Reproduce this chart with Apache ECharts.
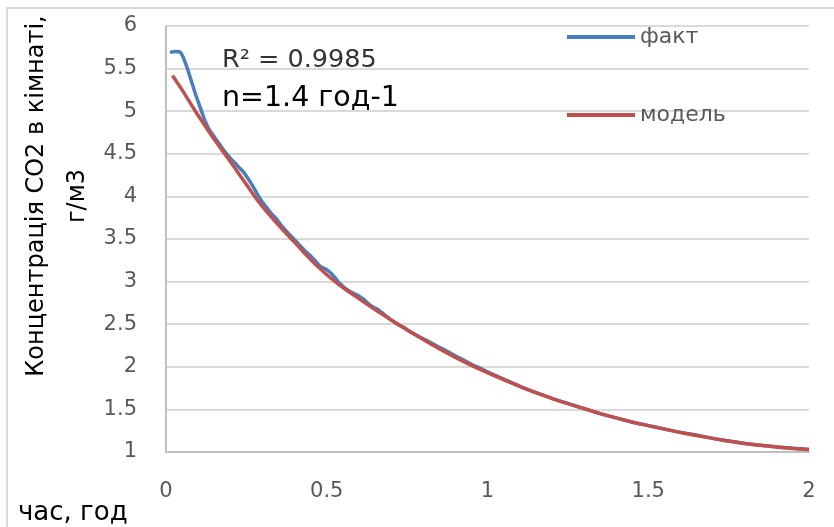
<!DOCTYPE html>
<html>
<head>
<meta charset="utf-8">
<script src="https://cdn.jsdelivr.net/npm/echarts@6/dist/echarts.min.js"></script>
<style>
  html, body { margin: 0; padding: 0; background: #fff; }
  #chart { width: 834px; height: 527px; }
</style>
</head>
<body>
<div id="chart"></div>
<script>
// Measured CO2 concentration (г/м3) against time (год)
const factTime = [0.012, 0.03, 0.045, 0.06, 0.075, 0.09, 0.105, 0.12, 0.135, 0.15, 0.165, 0.18, 0.195, 0.21, 0.225, 0.24, 0.255, 0.27, 0.285, 0.30, 0.315, 0.33, 0.345, 0.36, 0.375, 0.39, 0.405, 0.42, 0.435, 0.45, 0.465, 0.48, 0.495, 0.51, 0.525, 0.54, 0.555, 0.57, 0.585, 0.60, 0.615, 0.63, 0.645, 0.66, 0.68, 0.70, 0.72, 0.74, 0.76, 0.78, 0.80, 0.82, 0.84, 0.86, 0.88, 0.90, 0.92, 0.94, 0.96, 0.98, 1.00, 1.03, 1.06, 1.09, 1.12, 1.15, 1.20, 1.25, 1.30, 1.35, 1.40, 1.45, 1.50, 1.55, 1.60, 1.65, 1.70, 1.75, 1.80, 1.85, 1.90, 1.95, 2.00];
const factConc = [5.69, 5.70, 5.69, 5.57, 5.40, 5.22, 5.06, 4.90, 4.78, 4.70, 4.62, 4.54, 4.47, 4.41, 4.35, 4.29, 4.21, 4.12, 4.02, 3.93, 3.86, 3.79, 3.73, 3.65, 3.59, 3.53, 3.47, 3.41, 3.35, 3.30, 3.24, 3.18, 3.15, 3.11, 3.05, 2.98, 2.93, 2.89, 2.86, 2.83, 2.79, 2.74, 2.70, 2.67, 2.61, 2.55, 2.50, 2.46, 2.41, 2.37, 2.33, 2.29, 2.25, 2.21, 2.17, 2.13, 2.09, 2.05, 2.01, 1.98, 1.94, 1.89, 1.84, 1.79, 1.74, 1.70, 1.63, 1.57, 1.51, 1.45, 1.40, 1.35, 1.31, 1.27, 1.23, 1.20, 1.16, 1.13, 1.10, 1.08, 1.06, 1.045, 1.03];

// Model curve (n = 1.4 год-1)
const modelTime = [0.02, 0.05, 0.1, 0.15, 0.2, 0.25, 0.3, 0.4, 0.5, 0.6, 0.7, 0.8, 0.9, 1.0, 1.1, 1.2, 1.3, 1.4, 1.5, 1.6, 1.7, 1.8, 1.9, 2.0];
const modelConc = [5.42, 5.25, 4.95, 4.67, 4.41, 4.14, 3.88, 3.46, 3.08, 2.80, 2.55, 2.32, 2.11, 1.93, 1.77, 1.63, 1.51, 1.40, 1.31, 1.23, 1.16, 1.10, 1.06, 1.03];

const seriesNames = ['факт', 'модель'];
const yTitle = 'Концентрація СО2 в кімнаті,\nг/м3';
const xTitle = 'час, год';
const r2Text = 'R² = 0.9985';
const nText = 'n=1.4 год-1';

const pairs = (xs, ys) => xs.map((x, i) => [x, ys[i]]);

const FONT = 'DejaVu Sans';
const chart = echarts.init(document.getElementById('chart'));

chart.setOption({
  animation: false,
  backgroundColor: '#fff',
  textStyle: { fontFamily: FONT },
  grid: { left: 166, right: 25, top: 26, bottom: 75, outerBoundsMode: 'none' },
  legend: {
    orient: 'vertical',
    left: 567,
    top: 25,
    padding: 0,
    itemGap: 54,
    itemWidth: 68,
    itemHeight: 4,
    icon: 'rect',
    data: seriesNames,
    textStyle: { fontFamily: FONT, fontSize: 22, color: '#595959', lineHeight: 24 }
  },
  xAxis: {
    type: 'value',
    min: 0, max: 2, interval: 0.5,
    axisLine: { show: true, lineStyle: { color: '#bfbfbf', width: 2 } },
    axisTick: { show: false },
    splitLine: { show: false },
    axisLabel: { fontFamily: FONT, fontSize: 21, color: '#595959', margin: 29 }
  },
  yAxis: {
    type: 'value',
    min: 1, max: 6, interval: 0.5,
    axisLine: { show: true, lineStyle: { color: '#bfbfbf', width: 2 } },
    axisTick: { show: false },
    splitLine: { show: true, lineStyle: { color: '#d9d9d9', width: 2 } },
    axisLabel: { fontFamily: FONT, fontSize: 21, color: '#595959', margin: 29 }
  },
  series: [
    {
      name: seriesNames[0],
      type: 'line',
      data: pairs(factTime, factConc),
      showSymbol: false,
      symbol: 'none',
      smooth: 0.3,
      lineStyle: { color: '#4a7ebb', width: 3.5 },
      itemStyle: { color: '#4a7ebb' },
      z: 2
    },
    {
      name: seriesNames[1],
      type: 'line',
      data: pairs(modelTime, modelConc),
      showSymbol: false,
      symbol: 'none',
      smooth: true,
      lineStyle: { color: '#c0504d', width: 3.5 },
      itemStyle: { color: '#c0504d' },
      z: 3
    }
  ],
  graphic: [
    {
      type: 'rect',
      shape: { x: 7, y: 8, width: 900, height: 600 },
      style: { fill: 'none', stroke: '#d9d9d9', lineWidth: 2 },
      silent: true, z: -10
    },
    {
      type: 'text',
      x: 57, y: 196,
      rotation: Math.PI / 2,
      style: {
        text: yTitle, fontFamily: FONT, fontSize: 24, fill: '#000',
        align: 'center', verticalAlign: 'middle', lineHeight: 41
      }
    },
    {
      type: 'text',
      x: 18, y: 526,
      style: { text: xTitle, fontFamily: FONT, fontSize: 26, fill: '#000', align: 'left', verticalAlign: 'bottom' }
    },
    {
      type: 'text',
      x: 222, y: 60,
      style: { text: r2Text, fontFamily: FONT, fontSize: 25.5, fill: '#333', align: 'left', verticalAlign: 'middle' }
    },
    {
      type: 'text',
      x: 222, y: 99,
      style: { text: nText, fontFamily: FONT, fontSize: 28.5, fill: '#000', align: 'left', verticalAlign: 'middle' }
    }
  ]
});
</script>
</body>
</html>
